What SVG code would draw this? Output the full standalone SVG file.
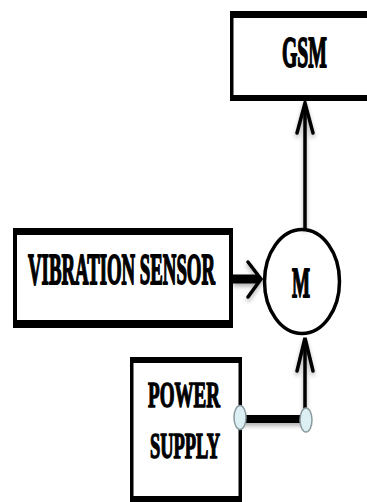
<svg xmlns="http://www.w3.org/2000/svg" width="367" height="502" viewBox="0 0 367 502">
  <defs>
    <filter id="sh" x="-20%" y="-20%" width="140%" height="160%">
      <feDropShadow dx="0" dy="3" stdDeviation="2" flood-color="#000" flood-opacity="0.3"/>
    </filter>
  </defs>
  <style>
    .frame { fill: #000; }
    .inner { fill: #fff; }
    .lbl { font-family: "Liberation Serif", "Times New Roman", serif; font-weight: bold; fill: #000; stroke: #000; stroke-width: 0.8; stroke-linejoin: round; text-anchor: middle; }
    .wire { stroke: #000; fill: none; stroke-linecap: butt; }
    .head { stroke: #000; fill: none; stroke-width: 3.5; stroke-linecap: round; stroke-linejoin: miter; }
    .port { fill: #dcf0f4; stroke: #8a9a9e; stroke-width: 1.5; }
  </style>
  <rect width="367" height="502" fill="#fff"/>

  <g id="gsm">
    <rect class="frame" x="230" y="11" width="150" height="90"/>
    <rect class="inner" x="233.5" y="18" width="150" height="77"/>
    <text class="lbl" font-size="20" textLength="45" lengthAdjust="spacingAndGlyphs" transform="translate(304.5,67) scale(1,2.25)">GSM</text>
  </g>

  <g id="vibration-sensor">
    <rect class="frame" x="13" y="228" width="220" height="100"/>
    <rect class="inner" x="17" y="235" width="212" height="85"/>
    <text class="lbl" font-size="19" textLength="187" lengthAdjust="spacingAndGlyphs" transform="translate(121.5,284) scale(1,2.35)">VIBRATION SENSOR</text>
  </g>

  <g id="motor">
    <ellipse cx="302" cy="281.5" rx="37.5" ry="52" fill="#fff" stroke="#000" stroke-width="3.5"/>
    <text class="lbl" font-size="19" textLength="18" lengthAdjust="spacingAndGlyphs" transform="translate(301,297) scale(1,2.2)">M</text>
  </g>

  <g id="power-supply">
    <rect class="frame" x="130" y="357" width="112" height="145"/>
    <rect class="inner" x="133.5" y="363" width="105" height="133"/>
    <text class="lbl" font-size="19" textLength="72" lengthAdjust="spacingAndGlyphs" transform="translate(184,407) scale(1,1.9)">POWER</text>
    <text class="lbl" font-size="19" textLength="70" lengthAdjust="spacingAndGlyphs" transform="translate(185,458) scale(1,1.9)">SUPPLY</text>
  </g>

  <g id="connectors">
    <g filter="url(#sh)">
      <line class="wire" x1="305" y1="229" x2="305" y2="104" stroke-width="3.5"/>
      <path class="head" d="M297,133 L305,103 L313,133"/>
      <line class="wire" x1="233" y1="279" x2="259" y2="279" stroke-width="9"/>
      <path class="head" d="M248,262 L261,279 L248,297" stroke-width="4"/>
      <line class="wire" x1="240" y1="419" x2="305" y2="419" stroke-width="8"/>
      <line class="wire" x1="305" y1="419" x2="305" y2="339" stroke-width="3.5"/>
      <path class="head" d="M297,371 L305,338 L313,371"/>
    </g>
    <ellipse class="port" cx="240" cy="417.5" rx="6" ry="12"/>
    <ellipse class="port" cx="306" cy="420" rx="6" ry="12"/>
  </g>
</svg>
